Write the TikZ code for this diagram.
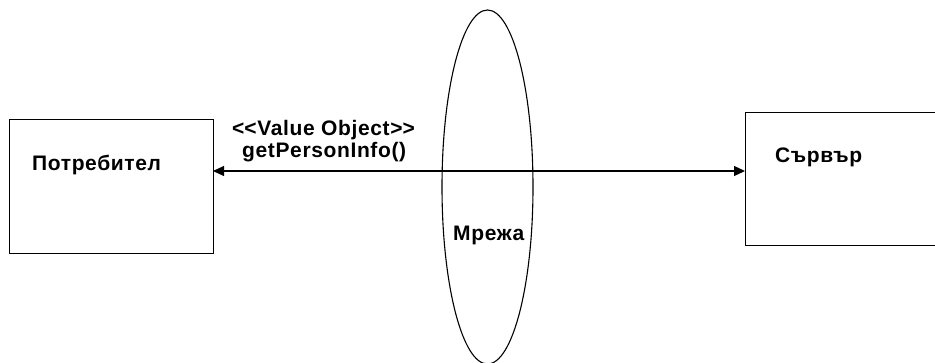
\documentclass[tikz,border=0pt]{standalone}
\usepackage{fontspec}
\setmainfont{Liberation Sans}[LetterSpace=3]
\usetikzlibrary{arrows.meta,shapes.geometric}
\begin{document}
\begin{tikzpicture}[x=1pt,y=-1pt,
  box/.style={draw,line width=1.1pt,rectangle,inner sep=0pt,anchor=north west},
  lbl/.style={font=\fontsize{21}{24}\selectfont\bfseries,inner sep=0pt,anchor=base west},
  conn/.style={line width=1.1pt,{Triangle[length=11pt,width=10pt]}-{Triangle[length=11pt,width=10pt]}}]
\useasboundingbox (0,0) rectangle (935,362);
\clip (0,0) rectangle (935,362);
\fill[white] (0,0) rectangle (935,362);
\node[box,minimum width=204pt,minimum height=134pt] (user) at (9,119) {};
\node[box,minimum width=210pt,minimum height=133pt] (server) at (745,112) {};
\node[draw,line width=1.1pt,ellipse,inner sep=0pt,minimum width=91pt,minimum height=354pt] (net) at (487.5,187) {};
\coordinate (a) at (213,171);
\coordinate (b) at (745,171);
\draw[conn] (a) -- (b);
\node[lbl] (tuser) at (32,170) {Потребител};
\node[lbl] (tserver) at (775,162) {Сървър};
\node[lbl] (tnet) at (453,240) {Мрежа};
\node[lbl] (tvo) at (232,135) {<\kern0pt<Value Object>\kern0pt>};
\node[lbl] (tget) at (242,157) {getPersonInfo()};
\end{tikzpicture}
\end{document}
